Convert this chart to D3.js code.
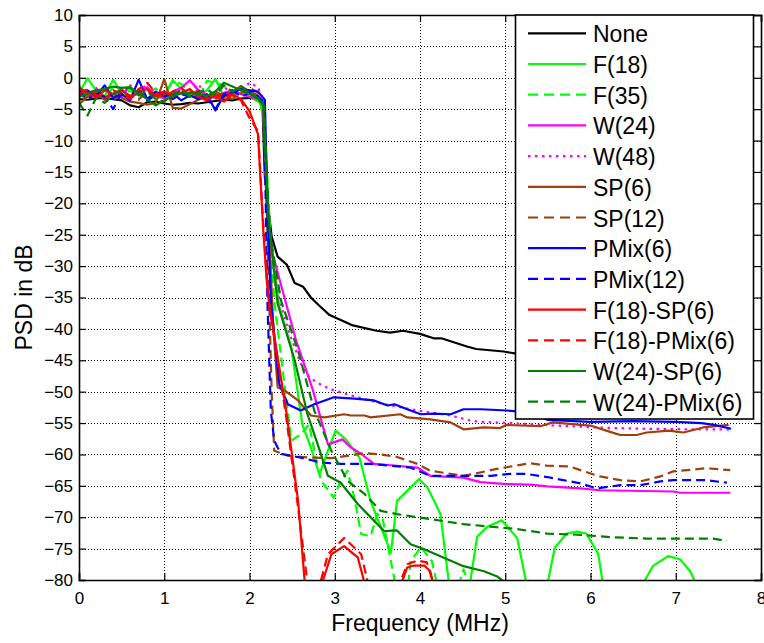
<!DOCTYPE html>
<html>
<head>
<meta charset="utf-8">
<script src="https://cdn.jsdelivr.net/npm/d3@7"></script>
<style>
  body { margin: 0; background: #fff; }
  text { font-family: "Liberation Sans", Arial, Helvetica, sans-serif; fill: #000; }
</style>
</head>
<body>
<div class="canvas"></div>
<script>
// frequency grid of the pass band (MHz)
const bandFreq = [0, 0.1, 0.2, 0.3, 0.4, 0.5, 0.6, 0.7, 0.8, 0.9, 1.0, 1.1, 1.2, 1.3, 1.4, 1.5, 1.6, 1.7, 1.8, 1.9, 2.0, 2.1]

// pass band PSD (dB), one value per bandFreq entry
const nonePass = [-3.4, -3.5, -3.3, -3.2, -3.4, -3.6, -4.4, -4.7, -3.9, -3.8, -4.1, -4.3, -4.2, -4.0, -4.1, -3.9, -3.7, -3.5, -3.6, -3.3, -3.2, -3.4]
const f18Pass = [-2.5, -0.1, -2.0, -3.0, -0.3, -2.5, -3.2, -2.0, -1.6, -3.4, -2.8, -0.4, -1.8, -2.9, -3.1, -2.0, -0.2, -3.0, -2.6, -1.8, -2.4, -3.3]
const f35Pass = [-1.2, -3.0, -2.2, -3.5, -1.5, -2.8, -2.0, -3.3, -2.4, -1.7, -3.0, -0.4, -1.0, -2.2, -3.2, -0.5, -0.8, -1.2, -2.8, -2.0, -3.0, -3.8]
const w24Pass = [-3.0, -2.4, -2.0, -3.2, -2.6, -1.8, -3.0, -2.5, -1.5, -2.8, -3.3, -2.2, -1.6, -0.4, -2.0, -2.8, -3.2, -2.4, -2.0, -2.6, -3.0, -3.4]
const w48Pass = [-2.0, -2.8, -1.6, -3.4, -2.2, -3.0, -1.2, -2.6, -0.8, -2.9, -2.3, -3.1, -1.8, -2.5, -1.0, -3.0, -2.2, -1.4, -2.7, -2.0, -0.8, -1.5]
const sp6Pass = [-4.2, -3.0, -2.5, -3.4, -2.6, -3.2, -3.8, -4.0, -4.3, -4.0, -0.2, -4.8, -4.9, -4.2, -3.5, -3.0, -2.6, -3.2, -2.4, -1.3, -2.2, -2.8]
const sp12Pass = [-2.6, -3.4, -2.2, -3.0, -3.6, -2.4, -2.8, -3.5, -2.0, -3.2, -2.6, -3.0, -1.8, -3.3, -2.7, -3.6, -2.2, -2.9, -3.4, -2.5, -1.6, -2.3]
const pmix6Pass = [-2.4, -2.0, -3.0, -1.2, -3.2, -2.6, -3.6, -0.3, -3.4, -2.2, -3.0, -2.5, -3.6, -2.8, -3.4, -2.6, -5.2, -2.8, -2.4, -1.8, -2.0, -2.2]
const pmix12Pass = [-2.0, -3.4, -2.6, -3.0, -5.0, -2.4, -3.2, -2.0, -3.6, -2.8, -2.2, -3.4, -2.6, -3.0, -2.0, -3.3, -5.0, -2.6, -2.0, -3.0, -2.4, -3.0]
const f18sp6Pass = [-1.6, -2.4, -3.2, -2.0, -2.6, -2.0, -3.0, -2.4, -1.8, -2.9, -2.2, -3.0, -2.4, -1.8, -3.0, -3.6, -2.8, -3.8, -2.6, -3.4, -5.3, -9]
const f18pmix6Pass = [-2.6, -1.8, -2.8, -3.4, -2.0, -2.6, -3.4, -1.8, -0.8, -2.4, -3.0, -2.2, -1.6, -2.8, -2.0, -3.2, -3.4, -2.2, -2.8, -3.6, -6.4, -8.5]
const w24sp6Pass = [-3.0, -2.6, -2.0, -1.8, -1.4, -1.6, -1.5, -2.5, -3.4, -4.4, -3.6, -2.9, -2.5, -2.4, -2.6, -2.9, -2.2, -0.8, -1.4, -2.0, -2.6, -3.3]
const w24pmix6Pass = [-4.0, -6.0, -3.2, -4.0, -2.6, -2.0, -1.6, -2.8, -2.2, -3.4, -3.8, -2.6, -2.0, -3.0, -2.4, -1.8, -2.8, -1.2, -2.2, -1.4, -2.4, -3.2]

// transition and stop band, [MHz, dB]
const noneStop = [[2.15, -3.6], [2.18, -15.8], [2.26, -25.3], [2.33, -28.5], [2.44, -29.8], [2.53, -32.7], [2.63, -33.3], [2.72, -35], [2.81, -36.2], [2.94, -37.8], [3.2, -39.4], [3.49, -40.3], [3.65, -40.6], [3.8, -40.3], [4.0, -40.8], [4.16, -41.5], [4.25, -41.5], [4.55, -42.8], [4.66, -43.2], [4.98, -43.6], [5.11, -43.9], [5.5, -44.2], [6, -44.5], [6.5, -44.8], [7, -45], [7.65, -45.3]]
const f18Stop = [[2.16, -5.5], [2.24, -25], [2.35, -36.5], [2.49, -42.9], [2.62, -55.2], [2.72, -58.9], [2.82, -63.2], [2.92, -59.4], [3.01, -56.2], [3.13, -57.6], [3.29, -60.5], [3.42, -67.4], [3.54, -71.6], [3.66, -75.6], [3.73, -67.4], [3.85, -65.8], [3.99, -63.9], [4.09, -65.3], [4.24, -69.5], [4.38, -85], [4.45, -95], [4.57, -82], [4.67, -73.1], [4.79, -71.5], [4.96, -70.5], [5.14, -73.3], [5.27, -82], [5.38, -95], [5.49, -81], [5.58, -74.9], [5.72, -72.6], [5.84, -72.3], [5.95, -72.6], [6.09, -75.8], [6.15, -81], [6.38, -95], [6.6, -81], [6.73, -77.8], [6.91, -76.2], [7.05, -76.7], [7.17, -78.6], [7.25, -81], [7.4, -95], [7.65, -85]]
const f35Stop = [[2.17, -6], [2.24, -24], [2.29, -35.5], [2.41, -48.8], [2.49, -57.8], [2.6, -56.8], [2.7, -55.2], [2.8, -62.1], [2.84, -64.2], [2.99, -66.9], [3.07, -64.2], [3.15, -62.6], [3.23, -66.9], [3.31, -72.7], [3.42, -73], [3.5, -69.5], [3.56, -70.1], [3.73, -82], [3.78, -92], [3.89, -77], [4.01, -74.8], [4.14, -77], [4.22, -82], [4.33, -92], [4.44, -81.5], [4.51, -78.3], [4.59, -81.5], [4.7, -92], [5.2, -86], [6, -90], [7, -92], [7.65, -91]]
const w24Stop = [[2.16, -4.5], [2.2, -20], [2.25, -27], [2.32, -30.5], [2.44, -36.5], [2.55, -42], [2.74, -49.6], [2.92, -58.4], [3.09, -57.6], [3.19, -58.9], [3.31, -59.9], [3.46, -61.5], [3.73, -61.8], [3.97, -62.1], [4.12, -63.4], [4.51, -63.7], [4.71, -64.4], [4.98, -64.7], [5.29, -64.8], [5.49, -65.1], [5.88, -65.4], [6.11, -65.7], [6.97, -65.9], [7.05, -66.1], [7.64, -66.1]]
const w48Stop = [[2.16, -3.5], [2.21, -20], [2.3, -32.7], [2.45, -40], [2.6, -45.5], [2.7, -47.7], [2.85, -49], [2.99, -49.8], [3.35, -51.2], [3.58, -52], [3.97, -53], [4.36, -53.8], [4.59, -54.6], [4.7, -54.8], [5.09, -55], [5.29, -55.2], [6.05, -55.7], [6.6, -55.9], [7.2, -56], [7.64, -56]]
const sp6Stop = [[2.16, -4], [2.22, -22], [2.28, -40], [2.33, -49.3], [2.41, -49.8], [2.57, -51.4], [2.72, -53.8], [2.88, -54.1], [3.11, -53.6], [3.19, -53.8], [3.35, -53.8], [3.42, -54.1], [3.77, -53.6], [3.85, -54.1], [4.12, -54.4], [4.36, -54.9], [4.51, -56], [4.75, -55.7], [4.94, -55.8], [5.01, -55.3], [5.41, -55.5], [5.56, -54.9], [5.88, -55.3], [6.0, -55.4], [6.23, -56.4], [6.35, -56.9], [6.54, -56.9], [6.66, -56.5], [6.92, -56.2], [7.09, -56.5], [7.32, -55.7], [7.62, -55.3]]
const sp12Stop = [[2.17, -4.5], [2.22, -30], [2.26, -50], [2.29, -59.4], [2.45, -60.2], [2.72, -60.5], [2.96, -60.6], [3.35, -59.8], [3.54, -60], [3.73, -60.4], [3.97, -61.5], [4.12, -62.6], [4.51, -63.4], [4.63, -63.1], [4.9, -62.3], [5.29, -61.4], [5.49, -61.8], [5.75, -61.9], [5.88, -62.5], [6.11, -63.5], [6.35, -64.1], [6.58, -64.3], [6.82, -63.5], [6.97, -62.7], [7.13, -62.5], [7.36, -62.2], [7.64, -62.5]]
const pmix6Stop = [[2.18, -3.5], [2.21, -20], [2.25, -35.5], [2.35, -48.8], [2.45, -52], [2.6, -53], [2.76, -52], [2.99, -50.9], [3.23, -51.1], [3.46, -51.4], [3.62, -52.2], [3.7, -52], [3.85, -52.8], [4.01, -53.6], [4.16, -53.5], [4.36, -53.6], [4.51, -52.8], [4.71, -52.8], [5.02, -53], [5.29, -53.3], [5.5, -54.5], [6, -54.8], [6.5, -54.7], [7, -54.8], [7.3, -55], [7.45, -55.3], [7.65, -55.9]]
const pmix12Stop = [[2.17, -4], [2.21, -35.5], [2.25, -53], [2.29, -57.8], [2.33, -58.9], [2.37, -59.9], [2.6, -60.5], [2.84, -61.3], [3.07, -61.5], [3.42, -61.5], [3.66, -61.8], [3.89, -62.1], [4.12, -63.4], [4.51, -63.4], [4.83, -63.4], [5.06, -63.1], [5.25, -63.1], [5.49, -63.6], [5.88, -64.6], [6.07, -65.4], [6.35, -64.9], [6.58, -64.9], [6.82, -64.3], [6.97, -64.1], [7.36, -64.1], [7.6, -64.5]]
const f18sp6Stop = [[2.16, -24], [2.2, -32], [2.23, -36], [2.43, -53], [2.57, -67.4], [2.64, -79.1], [2.7, -88], [2.76, -96], [2.84, -81], [2.96, -75.9], [3.11, -74.6], [3.27, -76.4], [3.36, -81], [3.55, -96], [3.77, -81], [3.85, -78], [3.93, -77.7], [4.05, -77.7], [4.12, -78.6], [4.16, -81], [4.3, -95], [5, -92], [6, -95], [7.65, -96]]
const f18pmix6Stop = [[2.16, -23], [2.2, -31], [2.23, -36], [2.43, -54], [2.57, -68.5], [2.68, -80.5], [2.74, -90], [2.82, -81], [2.92, -75.9], [3.11, -73.3], [3.31, -75.9], [3.4, -81], [3.58, -95], [3.75, -81], [3.85, -77.5], [3.97, -76.9], [4.08, -77.2], [4.17, -81], [4.35, -95], [5, -93], [6, -95], [7.65, -96]]
const w24sp6Stop = [[2.16, -4.2], [2.22, -22], [2.33, -36], [2.53, -45], [2.68, -53.6], [2.8, -58.4], [2.92, -63.4], [3.07, -64.5], [3.27, -67.9], [3.5, -71.1], [3.58, -72.2], [3.73, -72.1], [3.89, -74.3], [4.05, -75.1], [4.32, -76.7], [4.51, -77.8], [4.75, -78.6], [4.9, -79.4], [5.0, -80.4], [5.5, -83], [6.5, -86], [7.65, -88]]
const w24pmix6Stop = [[2.17, -4.5], [2.23, -24], [2.37, -35.5], [2.57, -43.5], [2.76, -53], [2.96, -59.4], [3.15, -64.2], [3.35, -66.3], [3.54, -69], [3.73, -69.5], [4.12, -70.3], [4.51, -71.1], [4.9, -71.6], [5.09, -71.8], [5.49, -72.6], [5.88, -72.8], [6.27, -73.2], [6.66, -73.4], [7.05, -73.4], [7.44, -73.4], [7.6, -73.8]]

const names = ['None', 'F(18)', 'F(35)', 'W(24)', 'W(48)', 'SP(6)', 'SP(12)', 'PMix(6)', 'PMix(12)', 'F(18)-SP(6)', 'F(18)-PMix(6)', 'W(24)-SP(6)', 'W(24)-PMix(6)']
const passBands = [nonePass, f18Pass, f35Pass, w24Pass, w48Pass, sp6Pass, sp12Pass, pmix6Pass, pmix12Pass, f18sp6Pass, f18pmix6Pass, w24sp6Pass, w24pmix6Pass]
const stopBands = [noneStop, f18Stop, f35Stop, w24Stop, w48Stop, sp6Stop, sp12Stop, pmix6Stop, pmix12Stop, f18sp6Stop, f18pmix6Stop, w24sp6Stop, w24pmix6Stop]
const colors = ['#000000', '#00ff00', '#00ff00', '#ff00ff', '#ff00ff', '#a0410d', '#a0410d', '#0000ff', '#0000ff', '#ff0000', '#ff0000', '#008000', '#008000']
const dashes = ['none', 'none', '9,5', 'none', '2.5,4.5', 'none', '9,5', 'none', '9,5', 'none', '9,5', 'none', '9,5']

const xTicks = [0, 1, 2, 3, 4, 5, 6, 7, 8]
const yTicks = [10, 5, 0, -5, -10, -15, -20, -25, -30, -35, -40, -45, -50, -55, -60, -65, -70, -75, -80]


const margin = { top: 15, right: 3, bottom: 63, left: 79 }
const width = 764
const height = 643
const graphWidth = width - margin.left - margin.right
const graphHeight = height - margin.top - margin.bottom

const svg = d3.select('.canvas')
    .append('svg')
    .attr('width', width)
    .attr('height', height)

const graph = svg.append('g')
    .attr('transform', `translate(${margin.left}, ${margin.top})`)

const xScale = d3.scaleLinear().domain([0, 8]).range([0, graphWidth])
const yScale = d3.scaleLinear().domain([-80, 10]).range([graphHeight, 0])

svg.append('defs').append('clipPath')
    .attr('id', 'plotClip')
    .append('rect')
    .attr('width', graphWidth)
    .attr('height', graphHeight)

// dotted grid, snapped to the pixel grid so the dots stay dark
const snap = v => Math.round(v) + 0.5

graph.append('g').selectAll('line')
    .data(xTicks.slice(1, -1))
    .enter().append('line')
        .attr('x1', d => snap(xScale(d))).attr('x2', d => snap(xScale(d)))
        .attr('y1', 0).attr('y2', graphHeight)
        .attr('stroke', '#000').attr('stroke-width', 1).attr('stroke-dasharray', '1,2')

graph.append('g').selectAll('line')
    .data(yTicks.slice(1, -1))
    .enter().append('line')
        .attr('y1', d => snap(yScale(d))).attr('y2', d => snap(yScale(d)))
        .attr('x1', 0).attr('x2', graphWidth)
        .attr('stroke', '#000').attr('stroke-width', 1).attr('stroke-dasharray', '1,2')

// curves
const lineGenerator = d3.line()
    .x(d => xScale(d[0]))
    .y(d => yScale(d[1]))

const series = names.map((name, i) => ({
    name: name,
    color: colors[i],
    dash: dashes[i],
    values: bandFreq.map((f, j) => [f, passBands[i][j]]).concat(stopBands[i])
}))

graph.append('g')
    .attr('clip-path', 'url(#plotClip)')
    .selectAll('path')
    .data(series)
    .enter().append('path')
        .attr('fill', 'none')
        .attr('stroke', d => d.color)
        .attr('stroke-width', 2.2)
        .attr('stroke-dasharray', d => d.dash)
        .attr('stroke-linejoin', 'round')
        .attr('d', d => lineGenerator(d.values))

// axes, ticks pointing inwards on all four sides
const xAxis = d3.axisBottom(xScale).tickValues(xTicks).tickSize(-7).tickPadding(12)
const yAxis = d3.axisLeft(yScale).tickValues(yTicks).tickSize(-7).tickPadding(6)

const xAxisGroup = graph.append('g').attr('transform', `translate(0, ${graphHeight})`).call(xAxis)
const yAxisGroup = graph.append('g').call(yAxis)
graph.append('g').call(d3.axisTop(xScale).tickValues(xTicks).tickSize(-7).tickFormat(''))
graph.append('g').attr('transform', `translate(${graphWidth}, 0)`)
    .call(d3.axisRight(yScale).tickValues(yTicks).tickSize(-7).tickFormat(''))

graph.selectAll('.domain').attr('stroke', '#000').attr('stroke-width', 1.6)
graph.selectAll('.tick line').attr('stroke', '#000').attr('stroke-width', 1.2)
graph.selectAll('.tick text')
    .attr('font-size', 17)
    .attr('font-family', '"Liberation Sans", Arial, Helvetica, sans-serif')
    .attr('fill', '#000')

// legend
const legend = graph.append('g')
    .attr('transform', `translate(${515.5 - margin.left}, 0)`)

legend.append('rect')
    .attr('width', 238)
    .attr('height', 404)
    .attr('fill', '#fff')
    .attr('stroke', '#000')
    .attr('stroke-width', 1.6)

const entries = legend.selectAll('g.entry')
    .data(series)
    .enter().append('g')
        .attr('class', 'entry')
        .attr('transform', (d, i) => `translate(0, ${18.3 + i * 30.7})`)

entries.append('line')
    .attr('x1', 12.5).attr('x2', 70.5)
    .attr('stroke', d => d.color)
    .attr('stroke-width', 2.2)
    .attr('stroke-dasharray', d => d.dash === 'none' ? 'none' : (d.dash === '9,5' ? '10,6' : '2.5,4.5'))

entries.append('text')
    .attr('x', 77.5)
    .attr('y', 1)
    .attr('dy', '0.35em')
    .attr('font-size', 23)
    .text(d => d.name)

// axis titles
svg.append('text')
    .attr('x', margin.left + graphWidth / 2)
    .attr('y', 631)
    .attr('text-anchor', 'middle')
    .attr('font-size', 23)
    .text('Frequency (MHz)')

svg.append('text')
    .attr('transform', `translate(31.5, ${margin.top + graphHeight / 2}) rotate(-90)`)
    .attr('text-anchor', 'middle')
    .attr('font-size', 23)
    .text('PSD in dB')
</script>
</body>
</html>
